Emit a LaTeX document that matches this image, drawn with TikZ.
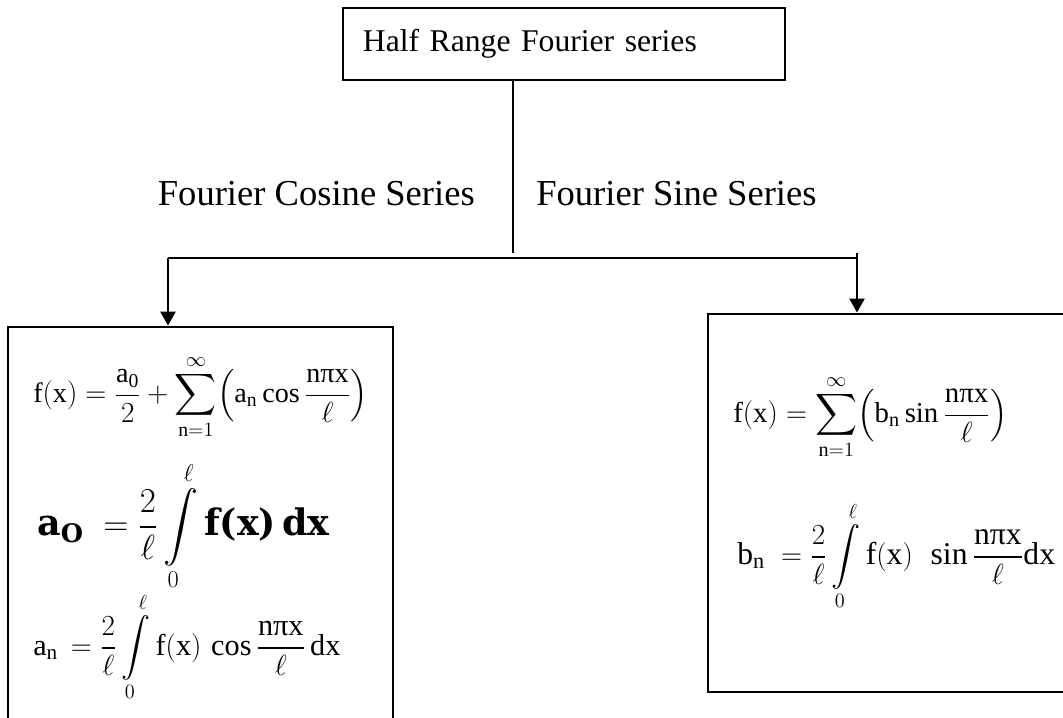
\documentclass[tikz,border=0pt]{standalone}
\usepackage{amsmath}
\usepackage{graphicx}
\usepackage{fontspec}
\setmainfont{Liberation Serif}
\newfontfamily\dejaserif{DejaVu Serif}
\usetikzlibrary{arrows.meta,positioning,calc}
\tikzset{
  titlebox/.style={
    rectangle, draw=black, line width=2pt,
    minimum width=11.05cm, minimum height=1.8cm,
    font=\fontsize{22.5}{27}\selectfont, align=left,
    text width=10.05cm, inner xsep=0.5cm
  },
  formbox/.style={
    rectangle, draw=black, line width=2pt,
    minimum width=#1
  },
  formbox/.default=9.6cm,
  branchlabel/.style={
    font=\fontsize{26}{30}\selectfont, inner sep=0pt
  },
  formula/.style={
    font=\fontsize{#1}{24}\selectfont, inner sep=0pt, anchor=west
  },
  formula/.default=20,
  trunkline/.style={line width=1.2pt},
  busline/.style={line width=1.9pt},
  branchline/.style={
    line width=1.9pt, -{Triangle[width=0.375cm,length=0.35cm]}
  },
}
\newcommand{\rmpi}{\text{π}}
\newcommand{\boldtxt}[1]{\text{\scalebox{1.08}{\dejaserif\bfseries #1}}}

\begin{document}
\begin{tikzpicture}[x=0.025cm, y=-0.025cm]
  \useasboundingbox (0,0) rectangle (1063,717);
  \clip (0,0) rectangle (1063,717);
  % title and the two series
  \node[titlebox] (half) at (564,44) {Half Range Fourier series};
  \node[branchlabel, anchor=base east] (cosname) at (475,205) {Fourier Cosine Series};
  \node[branchlabel, anchor=base west] (sinname) at (536,205) {Fourier Sine Series};
  % boxes (run off the page at the bottom and at the right)
  \node[formbox=9.625cm, minimum height=11.075cm] (cosbox) at (200.5,548.5) {};
  \node[formbox=10.3cm, minimum height=9.45cm] (sinbox) at (914,503) {};
  % connectors
  \coordinate (split) at (513,253);
  \coordinate (busL) at (168,258);
  \coordinate (busR) at (857,258);
  \coordinate (busRtop) at (857,253);
  \draw[trunkline] (half.south -| split) -- (split);
  \draw[busline] (busL) -- (busR);
  \draw[branchline] (busL) -- (cosbox.north -| busL);
  \draw[branchline] (busRtop) -- (sinbox.north -| busRtop);
  % cosine series
  \node[formula] (ceqf) at (33,397) {$\displaystyle
    \mathrm{f(x)} = \frac{\mathrm{a_0}}{2} + \sum_{\mathrm{n}=1}^{\infty}\!
    \left(\mathrm{a_n}\cos\frac{\mathrm{n}\rmpi\mathrm{x}}{\ell}\right)$};
  \node[formula=24] (ceqa) at (37,526) {$\displaystyle
    \boldtxt{a}_{\boldtxt{O}}\; = \frac{2}{\ell}\int\limits_{0}^{\ell}
    \boldtxt{f(x)\,dx}$};
  \node[formula=21.5] (ceqb) at (33,647) {$\displaystyle
    \mathrm{a_n}\, = \frac{2}{\ell}\int\limits_{0}^{\ell}\mathrm{f(x)}\,
    \cos\frac{\mathrm{n}\rmpi\mathrm{x}}{\ell}\,\mathrm{dx}$};
  % sine series
  \node[formula=20.5] (seqf) at (733,417) {$\displaystyle
    \mathrm{f(x)} = \sum_{\mathrm{n}=1}^{\infty}\!
    \left(\mathrm{b_n}\sin\frac{\mathrm{n}\rmpi\mathrm{x}}{\ell}\right)$};
  \node[formula=22.5] (seqb) at (737,556) {$\displaystyle
    \mathrm{b_n}\; = \frac{2}{\ell}\int\limits_{0}^{\ell}\mathrm{f(x)}\;\,
    \sin\frac{\mathrm{n}\rmpi\mathrm{x}}{\ell}\mathrm{dx}$};
\end{tikzpicture}
\end{document}
